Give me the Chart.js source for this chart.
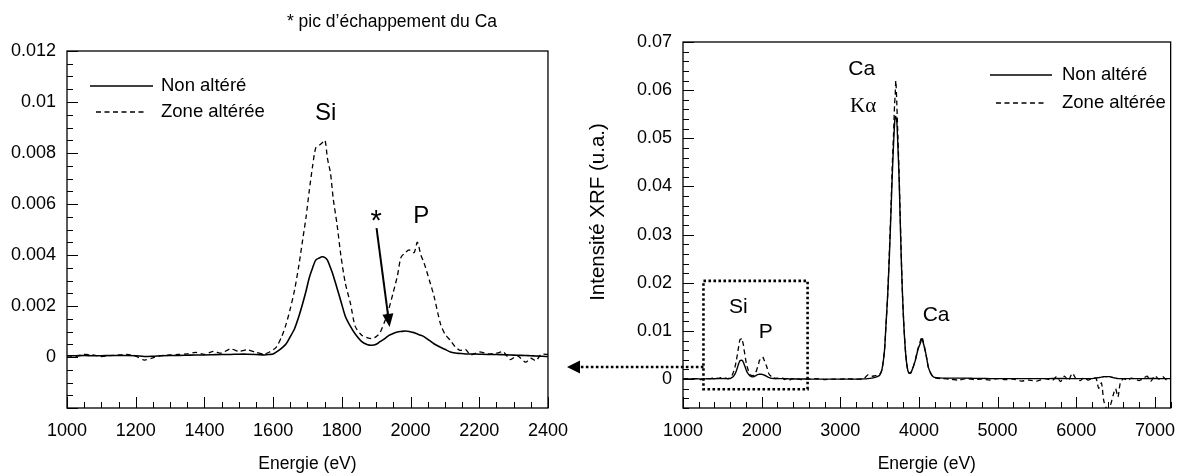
<!DOCTYPE html>
<html>
<head>
<meta charset="utf-8">
<script src="https://cdn.jsdelivr.net/npm/chart.js@4/dist/chart.umd.min.js"></script>
<style>
  body { margin: 0; background: #fff; }
  #wrap { position: relative; width: 1187px; height: 475px; overflow: hidden; }
  canvas { position: absolute; top: 0; }
  #leftChart { left: 0; }
  #rightChart { left: 560px; }
</style>
</head>
<body>
<div id="wrap">
  <canvas id="leftChart" width="580" height="475"></canvas>
  <canvas id="rightChart" width="627" height="475"></canvas>
</div>
<script>
// Energie (eV)
const energies = [
  1000, 1025, 1050, 1075, 1100, 1125, 1150, 1175, 1200, 1225, 1250, 1275, 1300, 1325, 1350, 1375, 1400, 1425, 1450, 1475, 1500, 1525, 1550, 1575, 1590,
  1600, 1610, 1625, 1638, 1650, 1662, 1675, 1686, 1696, 1705, 1715, 1724, 1734, 1743, 1751, 1758, 1767, 1775, 1786, 1797, 1810, 1825, 1839, 1858, 1875, 1887, 1900,
  1911, 1925, 1937, 1949, 1962, 1972, 1985, 1996, 2005, 2011, 2020, 2030, 2039, 2055, 2068, 2087, 2100, 2116, 2130, 2144, 2160, 2175, 2200, 2225, 2250, 2270, 2290, 2310, 2335, 2350, 2365, 2380, 2400,
  2450, 2500, 2550, 2600, 2700, 2800, 2900, 3000, 3100, 3200, 3300, 3350, 3400, 3450, 3500, 3530, 3562, 3580, 3603, 3625, 3645, 3660, 3677, 3690, 3698, 3706, 3719, 3733, 3747, 3760,
  3776, 3792, 3809, 3830, 3850, 3870, 3892, 3920, 3954, 3985, 4016, 4036, 4055, 4078, 4100, 4119, 4150, 4181, 4220, 4300,
  4400, 4500, 4600, 4700, 4800, 4900, 5000, 5100, 5200, 5300, 5400, 5500, 5600, 5700, 5750, 5800, 5850, 5900, 5950, 6000,
  6050, 6100, 6150, 6200, 6250, 6285, 6320, 6350, 6390, 6430, 6470, 6500, 6530, 6560, 6600, 6650, 6700, 6750, 6800, 6850,
  6900, 6950, 7000, 7050, 7100, 7150, 7200
];

// Non altéré
const nonAltere = [
  0.00005, 0.00005, 0.00006, 0.00005, 0.00005, 0.00006, 0.00006, 0.00006, 0.00005, 0.00002, 0.00003, 0.00005, 0.00006, 0.00006, 0.00007, 0.00008, 0.00008, 0.00009, 0.0001, 0.0001, 0.00011, 0.00011, 0.0001, 0.00008, 0.0001,
  0.00012, 0.0002, 0.00035, 0.00052, 0.0008, 0.0011, 0.0016, 0.0021, 0.0026, 0.0031, 0.0035, 0.0038, 0.00388, 0.00393, 0.0039, 0.0038, 0.0035, 0.0032, 0.0027, 0.0022, 0.0016, 0.0012, 0.0009, 0.0006, 0.00048, 0.00046, 0.0005,
  0.0006, 0.00072, 0.00085, 0.00092, 0.00098, 0.001, 0.00102, 0.001, 0.00097, 0.00095, 0.0009, 0.00085, 0.0008, 0.00065, 0.00052, 0.00038, 0.0003, 0.0002, 0.00016, 0.00014, 0.00012, 0.00012, 0.00011, 0.0001, 0.0001, 0.00009, 0.00008, 0.00007, 0.00006, 0.00005, 0.00004, 0.00003, 0.00002,
  0.00002, 0.00002, 0.00002, 0, 0, 0, 0, 0, 0, 0, 0.00005, 0.0001, 0.0002, 0.0004, 0.0008, 0.002, 0.006, 0.011, 0.0177, 0.026, 0.035, 0.042, 0.0488, 0.053, 0.0545, 0.0545, 0.0533, 0.048, 0.042, 0.034,
  0.0246, 0.017, 0.0108, 0.0055, 0.0025, 0.0013, 0.0012, 0.0022, 0.0039, 0.006, 0.0074, 0.0084, 0.0075, 0.006, 0.0042, 0.0025, 0.0012, 0.0005, 0.0003, 0.0002,
  0.0002, 0.0002, 0.0002, 0.00015, 0.00015, 0.0001, 0.0001, 0.0001, 0.0001, 0.0001, 0.0001, 0.0001, 0.0001, 0.00012, 0.00012, 0.00012, 0.00012, 0.0001, 0.0001, 0.0001,
  0.0001, 0.0001, 0.0001, 0.0001, 0.0002, 0.0003, 0.0004, 0.0005, 0.0005, 0.0005, 0.0003, 0.0002, 0.0001, 0.0001, 0.0001, 0.0001, 0.0001, 0.0001, 0.0001, 0.0001,
  0.00012, 0.00012, 0.00012, 0.0001, 0.0001, 0.0001, 0.0001
];

// Zone altérée
const zoneAlteree = [
  0.00005, 0.00003, 0.0001, 0.00008, 0.00002, 0.00005, 0.00008, 0.0001, 0.00003, -0.00012, -0.00003, 0.00005, 0.00008, 0.0001, 0.00012, 0.00018, 0.0001, 0.00022, 0.00015, 0.00032, 0.00022, 0.00028, 0.00018, 0.00012, 0.0002,
  0.00028, 0.0004, 0.0008, 0.0013, 0.0019, 0.0026, 0.0036, 0.0046, 0.0055, 0.0065, 0.0075, 0.0082, 0.0083, 0.0084, 0.0085, 0.0078, 0.0072, 0.0062, 0.0052, 0.004, 0.0029, 0.0021, 0.0012, 0.00085, 0.00075, 0.00072, 0.0008,
  0.00095, 0.0014, 0.0019, 0.0025, 0.0032, 0.0039, 0.0041, 0.0042, 0.0041, 0.0041, 0.0045, 0.004, 0.0037, 0.003, 0.0024, 0.0013, 0.0009, 0.00065, 0.0004, 0.00026, 0.0003, 0.00008, 0.0002, 0.00012, 0.00015, 0.0002, -0.0001, 0.00005, -0.0002, -0.00005, -0.00015, 0.0001, 0.0001,
  0.00005, -0.0001, 0.00005, 0, 0.0001, -0.0001, 0, 0, 0.00005, 0, 0.0001, 0.0009, 0.0006, 0.0007, 0.001, 0.002, 0.006, 0.011, 0.0177, 0.027, 0.036, 0.044, 0.051, 0.057, 0.059, 0.062, 0.057, 0.05, 0.043, 0.035,
  0.025, 0.017, 0.011, 0.0055, 0.0026, 0.0014, 0.0012, 0.0022, 0.004, 0.0062, 0.0078, 0.0088, 0.0078, 0.006, 0.0042, 0.0025, 0.0012, 0.0005, 0.0002, 0.0001,
  0, -0.0002, 0.0001, -0.0001, 0, -0.0002, 0.0001, -0.0001, 0, -0.0004, -0.0002, -0.0004, 0.0001, -0.0002, 0.0005, -0.0005, 0.0006, -0.0003, 0.0012, 0,
  -0.0003, 0.0003, -0.0002, 0.0001, 0.0002, -0.0019, -0.0008, -0.0045, -0.0062, -0.0056, -0.0033, -0.002, -0.0037, -0.0008, 0.0001, -0.0002, 0.0002, 0, -0.0003, 0.0001,
  0.0006, -0.0004, 0.0007, 0, 0.0005, -0.0002, 0.0001
];

const seriesNames = ['Non altéré', 'Zone altérée'];

// tick labels
const leftXTicks = [1000, 1200, 1400, 1600, 1800, 2000, 2200, 2400];
const leftYTicks = [0, 0.002, 0.004, 0.006, 0.008, 0.01, 0.012];
const rightXTicks = [1000, 2000, 3000, 4000, 5000, 6000, 7000];
const rightYTicks = [0, 0.01, 0.02, 0.03, 0.04, 0.05, 0.06, 0.07];

const FONT = '"Liberation Sans", Arial, sans-serif';

// box + inward minor/major ticks
const axisFrame = {
  id: 'axisFrame',
  afterDraw(chart, args, o) {
    const ctx = chart.ctx, a = chart.chartArea;
    const xs = chart.scales.x, ys = chart.scales.y;
    ctx.save();
    ctx.strokeStyle = '#000';
    ctx.lineWidth = 1;
    ctx.beginPath();
    const nx = Math.round((xs.max - xs.min) / o.xMinor);
    for (let i = 0; i <= nx; i++) {
      const v = xs.min + i * o.xMinor;
      const major = Math.abs(v / o.xMajor - Math.round(v / o.xMajor)) < 1e-6;
      const px = Math.round(xs.getPixelForValue(v)) + 0.5;
      ctx.moveTo(px, a.bottom);
      ctx.lineTo(px, a.bottom - (major ? 11 : 6));
    }
    const ny = Math.round((ys.max - ys.min) / o.yMinor);
    for (let i = 0; i <= ny; i++) {
      const v = ys.min + i * o.yMinor;
      const major = Math.abs(v / o.yMajor - Math.round(v / o.yMajor)) < 1e-6;
      const py = Math.round(ys.getPixelForValue(v)) + 0.5;
      ctx.moveTo(a.left, py);
      ctx.lineTo(a.left + (major ? 11 : 6), py);
    }
    ctx.stroke();
    ctx.lineWidth = 1.3;
    ctx.strokeRect(a.left, a.top, a.right - a.left, a.bottom - a.top);
    ctx.restore();
  }
};

function drawLegend(ctx, x1, x2, y, dy, textX) {
  ctx.save();
  ctx.strokeStyle = '#000';
  ctx.lineWidth = 1.4;
  ctx.beginPath();
  ctx.moveTo(x1, y); ctx.lineTo(x2, y);
  ctx.stroke();
  ctx.lineWidth = 1.3;
  ctx.setLineDash([5, 3.5]);
  ctx.beginPath();
  ctx.moveTo(x1 + 6, y + dy); ctx.lineTo(x2 - 6, y + dy);
  ctx.stroke();
  ctx.setLineDash([]);
  ctx.fillStyle = '#000';
  ctx.font = '18.5px ' + FONT;
  ctx.textAlign = 'left';
  ctx.textBaseline = 'middle';
  ctx.fillText(seriesNames[0], textX, y);
  ctx.fillText(seriesNames[1], textX, y + dy);
  ctx.restore();
}

function arrow(ctx, x1, y1, x2, y2, head, half) {
  const ang = Math.atan2(y2 - y1, x2 - x1);
  const bx = x2 - head * Math.cos(ang), by = y2 - head * Math.sin(ang);
  ctx.beginPath();
  ctx.moveTo(x1, y1); ctx.lineTo(bx, by);
  ctx.stroke();
  ctx.setLineDash([]);
  ctx.beginPath();
  ctx.moveTo(x2, y2);
  ctx.lineTo(bx + half * Math.sin(ang), by - half * Math.cos(ang));
  ctx.lineTo(bx - half * Math.sin(ang), by + half * Math.cos(ang));
  ctx.closePath();
  ctx.fill();
}

function text(ctx, s, x, y, font) {
  ctx.font = font;
  ctx.fillText(s, x, y);
}

const leftNotes = {
  id: 'leftNotes',
  afterDraw(chart) {
    const ctx = chart.ctx, xs = chart.scales.x, ys = chart.scales.y, a = chart.chartArea;
    ctx.save();
    ctx.fillStyle = '#000';
    ctx.strokeStyle = '#000';
    ctx.textAlign = 'center';
    ctx.textBaseline = 'middle';
    text(ctx, '* pic d\u2019échappement du Ca', 392, 22, '17.5px ' + FONT);
    text(ctx, 'Energie (eV)', (a.left + a.right) / 2, 464, '17.5px ' + FONT);
    text(ctx, 'Si', xs.getPixelForValue(1753), ys.getPixelForValue(0.00955), '24px ' + FONT);
    text(ctx, 'P', xs.getPixelForValue(2031), ys.getPixelForValue(0.00552), '24px ' + FONT);
    text(ctx, '*', xs.getPixelForValue(1900), ys.getPixelForValue(0.0053), '29px ' + FONT);
    ctx.lineWidth = 2;
    arrow(ctx, xs.getPixelForValue(1901), ys.getPixelForValue(0.00505),
      xs.getPixelForValue(1939), ys.getPixelForValue(0.00118), 13, 5.5);
    ctx.restore();
    drawLegend(ctx, 90, 153, 86, 26, 161);
  }
};

const rightNotes = {
  id: 'rightNotes',
  afterDraw(chart) {
    const ctx = chart.ctx, xs = chart.scales.x, ys = chart.scales.y, a = chart.chartArea;
    ctx.save();
    ctx.fillStyle = '#000';
    ctx.strokeStyle = '#000';
    ctx.textAlign = 'center';
    ctx.textBaseline = 'middle';
    text(ctx, 'Energie (eV)', (a.left + a.right) / 2, 464, '17.5px ' + FONT);
    ctx.save();
    ctx.translate(38, 212);
    ctx.rotate(-Math.PI / 2);
    text(ctx, 'Intensité XRF (u.a.)', 0, 0, '20.5px ' + FONT);
    ctx.restore();
    text(ctx, 'Ca', xs.getPixelForValue(3273), ys.getPixelForValue(0.0643), '21px ' + FONT);
    text(ctx, 'K\u03b1', xs.getPixelForValue(3290), ys.getPixelForValue(0.0567), '21px "Liberation Serif", "Times New Roman", serif');
    text(ctx, 'Ca', xs.getPixelForValue(4218), ys.getPixelForValue(0.01325), '21px ' + FONT);
    text(ctx, 'Si', xs.getPixelForValue(1705), ys.getPixelForValue(0.015), '21px ' + FONT);
    text(ctx, 'P', xs.getPixelForValue(2052), ys.getPixelForValue(0.0098), '21px ' + FONT);
    // dotted zoom box
    const bx1 = xs.getPixelForValue(1260), bx2 = xs.getPixelForValue(2584);
    const by1 = ys.getPixelForValue(0.0204), by2 = ys.getPixelForValue(-0.0021);
    ctx.lineWidth = 2.6;
    ctx.setLineDash([2.6, 2.4]);
    ctx.strokeRect(bx1, by1, bx2 - bx1, by2 - by1);
    const ay = ys.getPixelForValue(0.0025);
    arrow(ctx, bx1, ay, 7, ay, 13, 6.5);
    ctx.restore();
    drawLegend(ctx, 430, 492, 75, 28, 502);
  }
};

function makeChart(id, cfg) {
  const toPts = arr => energies.map((e, i) => ({ x: e, y: arr[i] }));
  return new Chart(document.getElementById(id), {
    type: 'line',
    data: {
      datasets: [
        { label: seriesNames[0], data: toPts(nonAltere), borderColor: '#000', borderWidth: cfg.solidWidth,
          pointRadius: 0, tension: 0.25, clip: 0 },
        { label: seriesNames[1], data: toPts(zoneAlteree), borderColor: '#000', borderWidth: 1.3,
          borderDash: [5, 3.5], pointRadius: 0, tension: 0.25, clip: 0 }
      ]
    },
    options: {
      responsive: false,
      animation: false,
      devicePixelRatio: 1,
      layout: { padding: cfg.padding },
      plugins: {
        legend: { display: false },
        tooltip: { enabled: false },
        axisFrame: cfg.ticks
      },
      scales: {
        x: {
          type: 'linear', min: cfg.xMin, max: cfg.xMax,
          grid: { display: false, drawTicks: false },
          border: { display: false },
          afterBuildTicks: s => { s.ticks = cfg.xTicks.map(v => ({ value: v })); },
          afterFit: s => { s.height = cfg.xHeight; },
          ticks: { color: '#000', padding: 12, maxRotation: 0, font: { family: FONT, size: 18 },
            callback: v => String(v) }
        },
        y: {
          type: 'linear', min: cfg.yMin, max: cfg.yMax,
          grid: { display: false, drawTicks: false },
          border: { display: false },
          afterBuildTicks: s => { s.ticks = cfg.yTicks.map(v => ({ value: v })); },
          afterFit: s => { s.width = cfg.yWidth; },
          ticks: { color: '#000', padding: 11, font: { family: FONT, size: 18 },
            callback: v => String(+v.toFixed(4)) }
        }
      }
    },
    plugins: [axisFrame, cfg.notes]
  });
}

makeChart('leftChart', {
  xMin: 1000, xMax: 2400, yMin: -0.002, yMax: 0.012,
  xTicks: leftXTicks, yTicks: leftYTicks,
  yWidth: 67, xHeight: 67,
  padding: { top: 51, right: 24, bottom: 0, left: 0 },
  ticks: { xMinor: 50, xMajor: 200, yMinor: 0.0005, yMajor: 0.002 },
  solidWidth: 1.6,
  notes: leftNotes
});

makeChart('rightChart', {
  xMin: 1000, xMax: 7200, yMin: -0.006, yMax: 0.07,
  xTicks: rightXTicks, yTicks: rightYTicks,
  yWidth: 123, xHeight: 67,
  padding: { top: 42, right: 2, bottom: 0, left: 0 },
  ticks: { xMinor: 200, xMajor: 1000, yMinor: 0.002, yMajor: 0.01 },
  solidWidth: 1.4,
  notes: rightNotes
});
</script>
</body>
</html>
